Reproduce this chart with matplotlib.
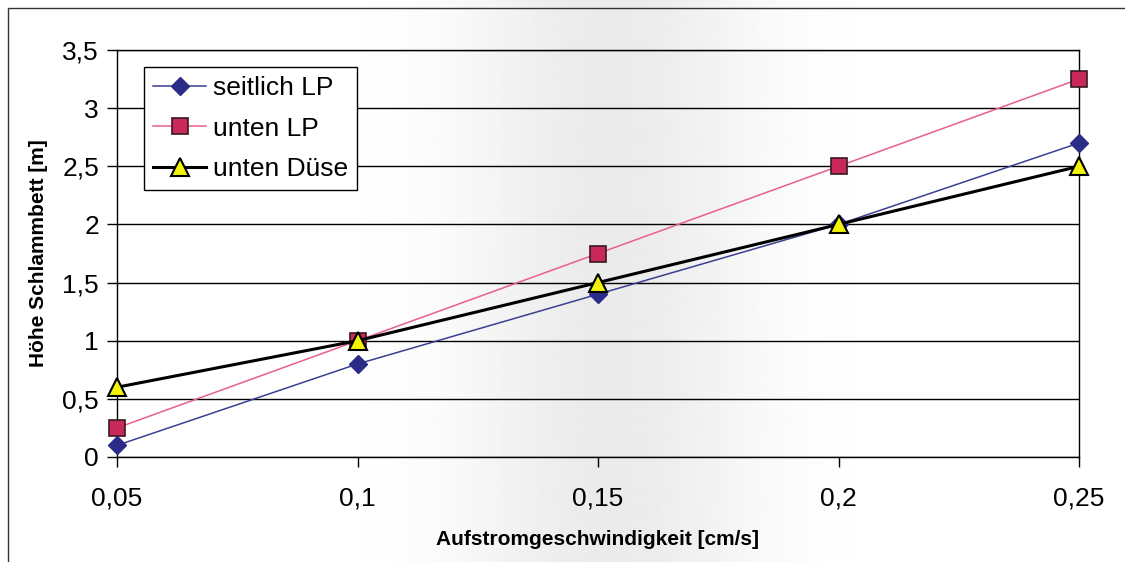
import numpy as np
import matplotlib
matplotlib.use('Agg')
import matplotlib.pyplot as plt
from matplotlib.patches import Rectangle
from matplotlib.ticker import FuncFormatter, MultipleLocator

plt.rcParams['font.family'] = ['Liberation Sans', 'DejaVu Sans']

# upflow velocity [cm/s] and sludge bed height [m]
velocity = [0.05, 0.10, 0.15, 0.20, 0.25]
seitlich_lp = [0.1, 0.8, 1.4, 2.0, 2.7]
unten_lp = [0.25, 1.0, 1.75, 2.5, 3.25]
unten_duese = [0.6, 1.0, 1.5, 2.0, 2.5]

W, H = 1125, 562
fig = plt.figure(figsize=(W / 100, H / 100), dpi=100)
fig.patch.set_facecolor('white')

# faint grey band across the middle of the scanned page
xs = np.arange(W)
shade = 1 - 0.08 * np.exp(-0.5 * ((xs - 610) / 100.0) ** 2)
bg = fig.add_axes([0, 0, 1, 1], zorder=-1)
bg.imshow(np.tile(shade, (2, 1)), cmap='gray', vmin=0, vmax=1,
          aspect='auto', extent=[0, 1, 0, 1], interpolation='bilinear')
bg.set_axis_off()

# outer chart frame (right/bottom edges fall outside the page)
fig.add_artist(Rectangle((8 / W, -0.05), 1.2, 1 - 8 / H + 0.05, transform=fig.transFigure,
                         fill=False, edgecolor='#333333', linewidth=1.0))

ax = fig.add_axes([117 / W, 1 - 457 / H, (1079 - 117) / W, (457 - 50) / H])
ax.set_facecolor('none')

ax.plot(velocity, seitlich_lp, color='#3a3f90', lw=1.1, marker='D', ms=9,
        mfc='#2b2b88', mec='#2b2b88', label='seitlich LP', zorder=3, clip_on=False)
ax.plot(velocity, unten_lp, color='#e8608a', lw=1.1, marker='s', ms=11.5,
        mfc='#c8285a', mec='#3a1a20', mew=1.2, label='unten LP', zorder=4, clip_on=False)
ax.plot(velocity, unten_duese, color='black', lw=2.2, marker='^', ms=12.5,
        mfc='#f2f20a', mec='black', mew=1.5, label='unten Düse', zorder=5, clip_on=False)

ax.set_xlim(0.05, 0.25)
ax.set_ylim(0, 3.5)
ax.xaxis.set_major_locator(MultipleLocator(0.05))
ax.yaxis.set_major_locator(MultipleLocator(0.5))
comma = FuncFormatter(lambda v, _: f'{v:g}'.replace('.', ','))
ax.xaxis.set_major_formatter(comma)
ax.yaxis.set_major_formatter(comma)
ax.tick_params(direction='out', length=7, width=1.0, labelsize=19, color='black')
ax.tick_params(axis='x', pad=14)
ax.tick_params(axis='y', pad=6)
ax.grid(axis='y', color='black', lw=1.0)
ax.set_axisbelow(True)
for s in ax.spines.values():
    s.set_color('black')
    s.set_linewidth(1.0)

ax.set_xlabel('Aufstromgeschwindigkeit [cm/s]', fontsize=15, fontweight='bold', labelpad=14)
ax.set_ylabel('Höhe Schlammbett [m]', fontsize=15, fontweight='bold', labelpad=10)

leg = ax.legend(loc='upper left', bbox_to_anchor=(27 / 962, 1 - 17 / 407), fontsize=19,
                frameon=True, fancybox=False, edgecolor='black', framealpha=1,
                borderaxespad=0, handlelength=2.0, handletextpad=0.25,
                labelspacing=0.62, borderpad=0.35)
leg.get_frame().set_linewidth(1.0)

fig.savefig('out.png', dpi=100)
